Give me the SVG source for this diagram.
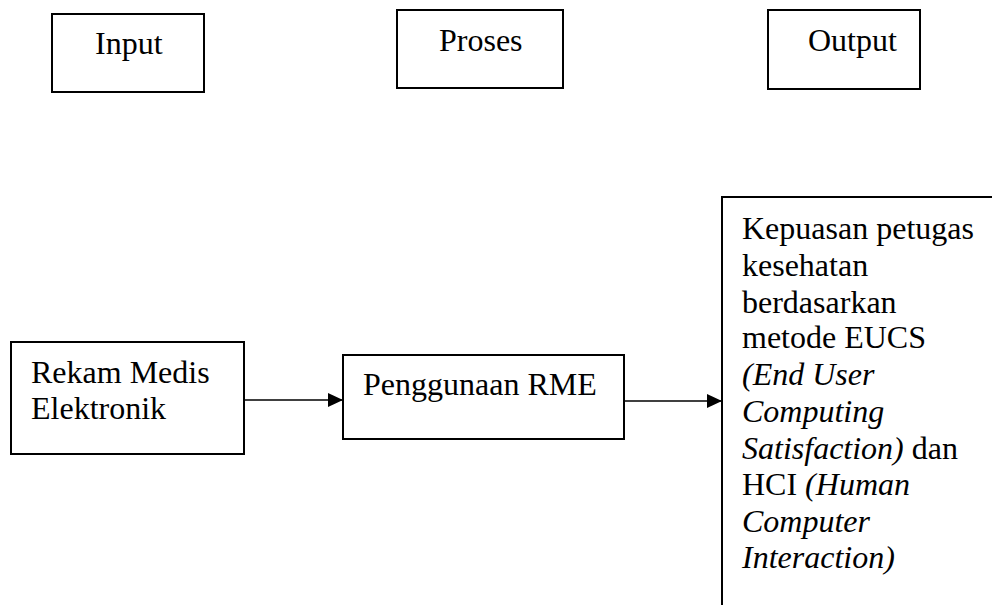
<svg xmlns="http://www.w3.org/2000/svg" width="992" height="605" viewBox="0 0 992 605">
<style>
.box{fill:#fff;stroke:#000;stroke-width:2}
.t{font-family:"Liberation Serif","Times New Roman",serif;font-size:32px;fill:#000}
.i{font-style:italic}
.c{stroke:#000;stroke-width:1.3;fill:none}
</style>
<defs>
<marker id="ah" markerWidth="15" markerHeight="14" refX="15" refY="7" orient="auto" markerUnits="userSpaceOnUse">
<path d="M0,0 L15,7 L0,14 Z" fill="#000"/>
</marker>
</defs>
<rect width="992" height="605" fill="#fff"/>
<g id="input-header">
<rect class="box" x="52" y="14" width="152" height="78"/>
<text class="t" x="95" y="54">Input</text>
</g>
<g id="proses-header">
<rect class="box" x="397" y="10" width="166" height="78"/>
<text class="t" x="439" y="51">Proses</text>
</g>
<g id="output-header">
<rect class="box" x="768" y="10" width="152" height="79"/>
<text class="t" x="808" y="51">Output</text>
</g>
<g id="rekam-medis">
<rect class="box" x="11" y="342" width="233" height="112"/>
<text class="t" x="31" y="383">Rekam Medis</text>
<text class="t" x="31" y="419">Elektronik</text>
</g>
<g id="penggunaan-rme">
<rect class="box" x="343" y="355" width="281" height="84"/>
<text class="t" x="363" y="395">Penggunaan RME</text>
</g>
<g id="kepuasan">
<rect class="box" x="722" y="197" width="290" height="430"/>
<text class="t" x="742" y="239">Kepuasan petugas</text>
<text class="t" x="742" y="276">kesehatan</text>
<text class="t" x="742" y="313">berdasarkan</text>
<text class="t" x="742" y="348">metode EUCS</text>
<text class="t i" x="742" y="385">(End User</text>
<text class="t i" x="742" y="422">Computing</text>
<text class="t" x="742" y="459"><tspan class="i">Satisfaction)</tspan> dan</text>
<text class="t" x="742" y="495">HCI <tspan class="i">(Human</tspan></text>
<text class="t i" x="742" y="532">Computer</text>
<text class="t i" x="742" y="568">Interaction)</text>
</g>
<g id="connectors">
<line class="c" x1="244" y1="400" x2="343" y2="400" marker-end="url(#ah)"/>
<line class="c" x1="624" y1="401" x2="722" y2="401" marker-end="url(#ah)"/>
</g>
</svg>
